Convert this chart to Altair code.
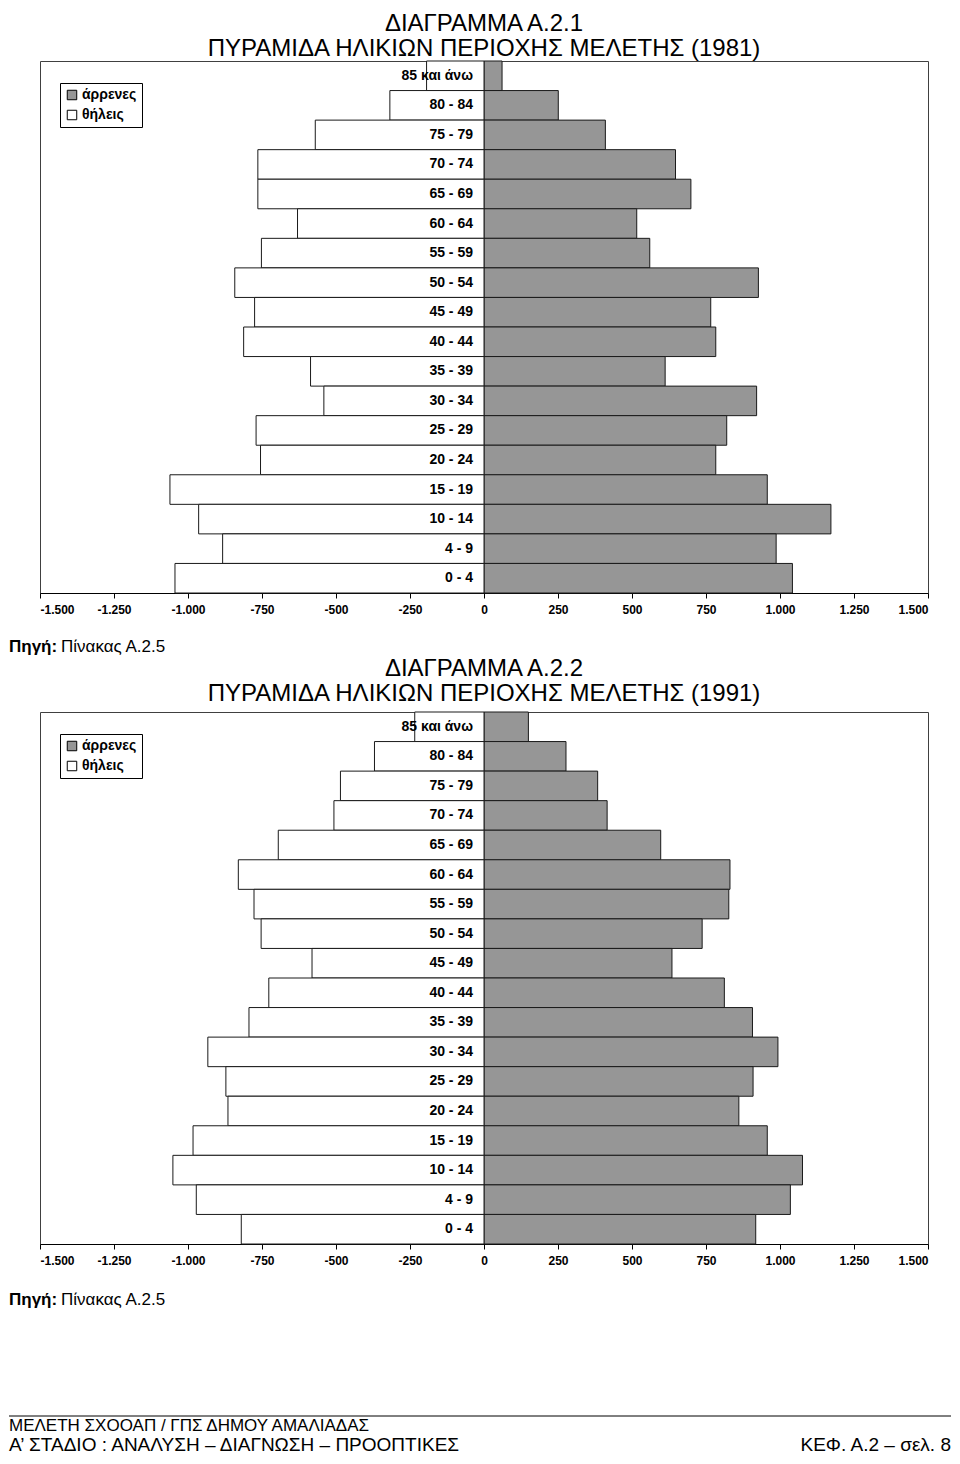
import altair as alt
import pandas as pd

FONT = "Liberation Sans"

ages = ["85 και άνω", "80 - 84", "75 - 79", "70 - 74", "65 - 69", "60 - 64",
        "55 - 59", "50 - 54", "45 - 49", "40 - 44", "35 - 39", "30 - 34",
        "25 - 29", "20 - 24", "15 - 19", "10 - 14", "4 - 9", "0 - 4"]
sexes = ["άρρενες", "θήλεις"]

males_1981 = [61, 251, 410, 647, 699, 516, 560, 927, 766, 783, 612, 921,
              820, 783, 957, 1172, 987, 1042]
females_1981 = [194, 318, 570, 764, 764, 630, 752, 842, 775, 812, 586, 541,
                770, 755, 1061, 964, 883, 1044]
males_1991 = [150, 277, 384, 416, 597, 831, 827, 737, 635, 812, 907, 993,
              909, 861, 957, 1076, 1035, 918]
females_1991 = [234, 370, 485, 507, 695, 830, 777, 753, 581, 727, 794, 933,
                872, 865, 983, 1051, 972, 820]

x_ticks = [-1500, -1250, -1000, -750, -500, -250, 0, 250, 500, 750, 1000, 1250, 1500]

titles_1981 = ["ΔΙΑΓΡΑΜΜΑ Α.2.1", "ΠΥΡΑΜΙΔΑ ΗΛΙΚΙΩΝ ΠΕΡΙΟΧΗΣ ΜΕΛΕΤΗΣ (1981)"]
titles_1991 = ["ΔΙΑΓΡΑΜΜΑ Α.2.2", "ΠΥΡΑΜΙΔΑ ΗΛΙΚΙΩΝ ΠΕΡΙΟΧΗΣ ΜΕΛΕΤΗΣ (1991)"]
source_bold = "Πηγή:"
source_text = "Πίνακας Α.2.5"
footer_line1 = "ΜΕΛΕΤΗ ΣΧΟΟΑΠ / ΓΠΣ ΔΗΜΟΥ ΑΜΑΛΙΑΔΑΣ"
footer_line2 = "Α’ ΣΤΑΔΙΟ : ΑΝΑΛΥΣΗ – ΔΙΑΓΝΩΣΗ – ΠΡΟΟΠΤΙΚΕΣ"
footer_right = "ΚΕΦ. Α.2 – σελ. 8"

W = 888
H = 532


def make_df(m, f):
    rows = []
    for a, mv, fv in zip(ages, m, f):
        rows.append({"age": a, "sex": sexes[0], "value": mv})
        rows.append({"age": a, "sex": sexes[1], "value": -fv})
    return pd.DataFrame(rows)


x_axis = alt.Axis(values=x_ticks,
                  labelExpr="(datum.value < 0 ? '-' : '') + replace(format(abs(datum.value), ','), ',', '.')",
                  grid=False, title=None, tickSize=5, labelPadding=6,
                  labelFont=FONT, labelFontSize=12, labelFontWeight="bold",
                  labelColor="black", domainColor="black", tickColor="black")
y_axis = alt.Axis(labels=False, title=None, tickBand="extent", offset=-W / 2,
                  tickSize=4, domainColor="black", tickColor="black", grid=False)
x_scale = alt.Scale(domain=[-1500, 1500], nice=False)
y_scale = alt.Scale(paddingInner=0, paddingOuter=0)


def text_layer(txt, x, y, size, weight="normal", align="left"):
    return alt.Chart(pd.DataFrame({"t": [txt]})).mark_text(
        align=align, baseline="middle", font=FONT, fontSize=size,
        fontWeight=weight, color="black"
    ).encode(x=alt.value(x), y=alt.value(y), text="t:N")


def pyramid(m, f, title_lines, source_y, title_offset, extra=None):
    df = make_df(m, f)
    base = alt.Chart(df)
    bars = base.mark_bar(stroke="#1a1a1a", strokeWidth=1).encode(
        x=alt.X("value:Q", stack=None, scale=x_scale, axis=x_axis),
        y=alt.Y("age:N", sort=ages, scale=y_scale, axis=y_axis),
        color=alt.Color("sex:N", scale=alt.Scale(domain=sexes, range=["#969696", "#ffffff"]),
                        legend=alt.Legend(orient="none", legendX=20, legendY=22,
                                          direction="vertical", title=None,
                                          symbolType="square", symbolSize=90,
                                          symbolStrokeColor="black", symbolStrokeWidth=1,
                                          labelFont=FONT, labelFontSize=14,
                                          labelFontWeight="bold", labelColor="black",
                                          labelOffset=3, rowPadding=6, padding=5,
                                          strokeColor="black", fillColor="white")),
    )
    labels = base.transform_filter(alt.datum.sex == sexes[0]).mark_text(
        align="right", baseline="middle", dx=-11, font=FONT, fontSize=14,
        fontWeight="bold", color="black"
    ).encode(
        x=alt.X("zero:Q", scale=x_scale, axis=x_axis),
        y=alt.Y("age:N", sort=ages, scale=y_scale, axis=y_axis),
        text="age:N",
    ).transform_calculate(zero="0")
    layers = [bars, labels,
              text_layer(source_bold, -31, source_y, 17, "bold"),
              text_layer(source_text, 21, source_y, 17)]
    if extra:
        layers += extra
    return alt.layer(*layers).properties(
        width=W, height=H,
        title=alt.TitleParams(text=title_lines, fontSize=24, font=FONT,
                              fontWeight="normal", lineHeight=25, anchor="middle",
                              offset=title_offset, color="black"),
    )


footer_rule = alt.Chart(pd.DataFrame({"t": [0]})).mark_rule(
    color="black", strokeWidth=1
).encode(x=alt.value(-31), x2=alt.value(911), y=alt.value(704))

footer = [
    footer_rule,
    text_layer(footer_line1, -31, 714, 17),
    text_layer(footer_line2, -31, 733, 19),
    text_layer(footer_right, 911, 733, 19, align="right"),
]

c1 = pyramid(males_1981, females_1981, titles_1981, 586, 0)
c2 = pyramid(males_1991, females_1991, titles_1991, 588, 6, extra=footer)

chart = alt.vconcat(c1, c2, spacing=0).resolve_scale(
    color="independent"
).resolve_legend(color="independent").configure_view(
    stroke="#404040", strokeWidth=1
).properties(padding={"top": 3, "left": 0, "right": 0, "bottom": 0}, background="white")

chart.save("out.html", embed_options={"renderer": "svg", "actions": False})
